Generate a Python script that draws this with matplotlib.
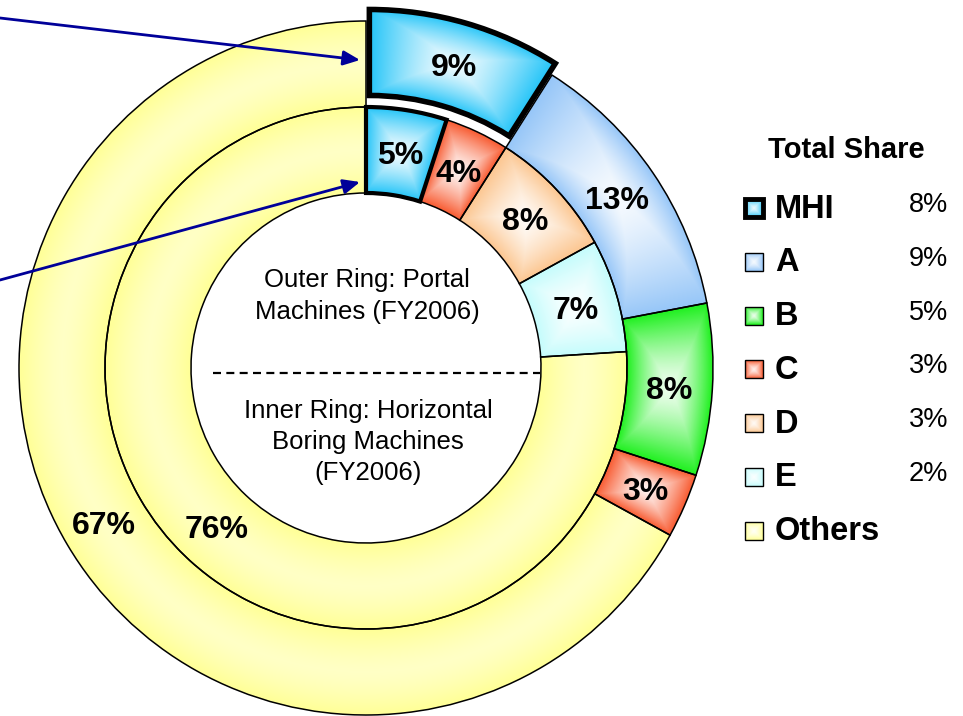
import numpy as np
import matplotlib
matplotlib.use('Agg')
import matplotlib.pyplot as plt
import matplotlib.colors as mcolors
from matplotlib.patches import Rectangle

plt.rcParams['font.family'] = ['Liberation Sans', 'DejaVu Sans']

# outer ring: portal machines (FY2006)
outer_names = ['MHI', 'A', 'B', 'C', 'Others']
outer_share = [9, 13, 8, 3, 67]
# inner ring: horizontal boring machines (FY2006)
inner_names = ['MHI', 'C', 'D', 'E', 'Others']
inner_share = [5, 4, 8, 7, 76]

# legend: total share
legend_names = ['MHI', 'A', 'B', 'C', 'D', 'E', 'Others']
total_share = ['8%', '9%', '5%', '3%', '3%', '2%', '']

colors = {'MHI': '#22C4F8', 'A': '#96C6F8', 'B': '#1EF01E', 'C': '#F85A30',
          'D': '#FCC690', 'E': '#C4FCFC', 'Others': '#FFFF96'}

W, H = 963, 716
gx, gy = np.meshgrid(np.arange(W) + 0.5, np.arange(H) + 0.5)


def shade(base, t, floor):
    rgb = np.array(mcolors.to_rgb(base))
    k = floor + (1 - floor) * np.clip(t, 0, 1)[..., None] ** 1.4
    return 1 - k * (1 - rgb)


def put_gradient(ax, patch, img):
    im = ax.imshow(img, extent=(0, W, 0, H), origin='lower', zorder=1,
                   interpolation='bilinear')
    im.set_clip_path(patch)


def wedge_fill(ax, w, base, floor=0.08, radial_only=False):
    cx, cy = w.center
    dx, dy = gx - cx, gy - cy
    r = np.hypot(dx, dy)
    ang = np.degrees(np.arctan2(dy, dx))
    u = np.abs(r - (w.r - w.width / 2)) / (w.width / 2)
    span = (w.theta2 - w.theta1) % 360
    d = (ang - w.theta1) % 360
    v = np.abs(d - span / 2) / (span / 2)
    t = u if radial_only else np.maximum(u, v)
    put_gradient(ax, w, shade(base, t, floor))


def rect_fill(ax, rect, base):
    x0, y0 = rect.get_xy()
    rw, rh = rect.get_width(), rect.get_height()
    t = np.maximum(np.abs(gx - x0 - rw / 2) / (rw / 2), np.abs(gy - y0 - rh / 2) / (rh / 2))
    put_gradient(ax, rect, shade(base, t, 0.1))


fig = plt.figure(figsize=(W / 100, H / 100), dpi=100)
ax = fig.add_axes([0, 0, 1, 1])

cx, cy = 366, 348
r_out, r_mid, r_in = 347, 261, 175

rings = [
    (outer_names, outer_share, r_out, r_out - r_mid, [12, 0, 0, 0, 0], 4.0),
    (inner_names, inner_share, r_mid, r_mid - r_in, [0, 0, 0, 0, 0], 3.0),
]
for names, share, rad, width, expl, thick in rings:
    wedges, _, pcts = ax.pie(
        share, radius=rad, center=(cx, cy), startangle=90, counterclock=False,
        explode=expl, autopct='%.0f%%', pctdistance=(rad - width / 2) / rad,
        wedgeprops=dict(width=width, edgecolor='black', linewidth=1.1, facecolor='none'),
        textprops=dict(fontsize=23, fontweight='bold'))
    for w, name, p in zip(wedges, names, pcts):
        w.set_zorder(2)
        p.set_zorder(4)
        p.set_va('center_baseline')
        if name == 'Others':
            wedge_fill(ax, w, colors[name], floor=0.55, radial_only=True)
        else:
            wedge_fill(ax, w, colors[name])
        if name == 'MHI':
            w.set_linewidth(thick)
            w.set_zorder(3)

# centre captions
ax.text(cx + 1, H - 296, 'Outer Ring: Portal\nMachines (FY2006)', ha='center', va='center',
        fontsize=18.5, linespacing=1.38, zorder=4)
ax.text(cx + 2, H - 442, 'Inner Ring: Horizontal\nBoring Machines\n(FY2006)', ha='center',
        va='center', fontsize=18.5, linespacing=1.36, zorder=4)
ax.plot([213, 540], [H - 373, H - 373], color='black', lw=1.6, dashes=(3.6, 2.4), zorder=4)

# arrows pointing at MHI
arrow = dict(arrowstyle='-|>,head_length=0.5,head_width=0.22', color='#000099', lw=2,
             mutation_scale=20, shrinkA=0, shrinkB=0)
ax.annotate('', xy=(360, H - 60), xytext=(0, H - 18), arrowprops=arrow, zorder=5)
ax.annotate('', xy=(360, H - 182), xytext=(0, H - 280), arrowprops=arrow, zorder=5)

# legend
ax.text(846, H - 150, 'Total Share', ha='center', va='center', fontsize=21, fontweight='bold')
for i, (name, val) in enumerate(zip(legend_names, total_share)):
    y = H - (208 + i * 53.8)
    sq = Rectangle((745, y - 9), 18, 18, facecolor='none', edgecolor='black',
                   lw=3.5 if name == 'MHI' else 1.0, zorder=3)
    ax.add_patch(sq)
    rect_fill(ax, sq, colors[name])
    ax.text(775, y - 1, name, ha='left', va='center', fontsize=23.5, fontweight='bold')
    ax.text(948, y + 3, val, ha='right', va='center', fontsize=19.5)

ax.set_xlim(0, W)
ax.set_ylim(0, H)
ax.set_aspect('equal')
ax.axis('off')

fig.savefig('out.png', dpi=100)
